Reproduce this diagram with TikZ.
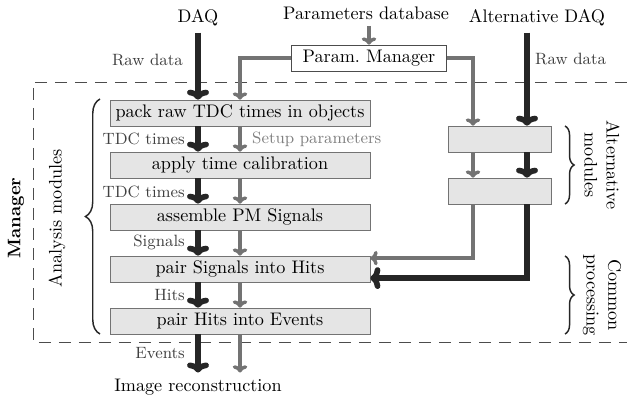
\documentclass[tikz,border=0pt]{standalone}
\usepackage{xcolor}
\usepackage{tikz}
\usetikzlibrary{positioning,arrows.meta,decorations.pathreplacing}

\tikzset{
  modbox/.style={draw=black!55, fill=black!10, minimum height=14.3pt, inner sep=0pt},
  darkflow/.style={draw=black!85, line width=3.1pt, -{To[length=5.5pt,width=12pt]}},
  grayflow/.style={draw=black!55, line width=1.9pt, -{To[length=4pt,width=8pt]}},
  flowlabel/.style={font=\small, text=black!75, inner sep=1pt},
  groupbrace/.style={decorate, draw=black!85, line width=0.8pt},
}

\begin{document}
\begin{tikzpicture}[x=0.55pt,y=0.55pt,yscale=-1,xscale=1]
            \useasboundingbox (0,0) rectangle (627,399);
            \coordinate (dcol) at (198,0);
            \coordinate (gcol) at (473,0);
            \coordinate (acol) at (527,0);

            \draw [black!70, dash pattern=on 6.5pt off 4.5pt] (627,82) -- (33,82) -- (33,342) -- (627,342);

            \node (daq) at (198,18) {DAQ};
            \node (db) at (366,13) {Parameters database};
            \node (altdaq) at (537,18) {Alternative DAQ};
            \node [draw=black!70, fill=white, minimum width=85pt, minimum height=14.3pt, inner sep=0pt] (pm) at (369,58) {Param.\ Manager};

            \node [modbox, minimum width=143pt] (pack) at (240,113) {pack raw TDC times in objects};
            \node [modbox, minimum width=143pt] (calib) at (240,165) {apply time calibration};
            \node [modbox, minimum width=143pt] (assemble) at (240,217) {assemble PM Signals};
            \node [modbox, minimum width=143pt] (hits) at (240,269) {pair Signals into Hits};
            \node [modbox, minimum width=143pt] (events) at (240,321) {pair Hits into Events};
            \node [modbox, minimum width=57pt] (altA) at (500,139) {};
            \node [modbox, minimum width=57pt] (altB) at (500,191) {};
            \node (img) at (198,387) {Image reconstruction};

            \draw [darkflow] (daq.south) -- (daq.south |- pack.north);
            \draw [grayflow] (db.south -| pm.north) -- (pm.north);
            \draw [grayflow] (pm.west) -| (pack.north);
            \draw [grayflow] (pm.east) -| (altA.north -| gcol);
            \draw [darkflow] (altdaq.south -| acol) -- (altA.north -| acol);
            \foreach \a/\b in {pack/calib,calib/assemble,assemble/hits,hits/events} {
                \draw [darkflow] (\a.south -| dcol) -- (\b.north -| dcol);
                \draw [grayflow] (\a.south) -- (\b.north);
            }
            \draw [darkflow] (altA.south -| acol) -- (altB.north -| acol);
            \draw [grayflow] (altA.south -| gcol) -- (altB.north -| gcol);
            \draw [grayflow] (altB.south -| gcol) |- ([yshift=-6pt]hits.east);
            \draw [darkflow] (altB.south -| acol) |- ([yshift=5pt]hits.east);
            \draw [darkflow] (events.south -| dcol) -- (img.north -| dcol);
            \draw [grayflow] (events.south) -- (events.south |- img.north);

            \node [flowlabel, anchor=east] (rawl) at (185,60) {Raw data};
            \node [flowlabel, anchor=west] (rawr) at (533,59) {Raw data};
            \node [flowlabel, anchor=east] (tdca) at (187,139) {TDC times};
            \node [flowlabel, anchor=west, text=black!50] (setup) at (250,139) {Setup parameters};
            \node [flowlabel, anchor=east] (tdcb) at (187,192) {TDC times};
            \node [flowlabel, anchor=east] (sigl) at (187,242) {Signals};
            \node [flowlabel, anchor=east] (hitl) at (187,295) {Hits};
            \node [flowlabel, anchor=east] (evl) at (187,353) {Events};

            \draw [groupbrace, decoration={brace, amplitude=8pt}] (100,334) -- (100,99);
            \node [rotate=90] (anl) at (57,218) {Analysis modules};
            \node [rotate=90, font=\bfseries] (mgr) at (16,218) {Manager};
            \draw [groupbrace, decoration={brace, amplitude=5pt}] (565,126) -- (565,204);
            \node [rotate=-90, align=center] (altl) at (602,165) {Alternative\\modules};
            \draw [groupbrace, decoration={brace, amplitude=5pt}] (565,256) -- (565,334);
            \node [rotate=-90, align=center] (coml) at (602,295) {Common\\processing};
        \end{tikzpicture}
\end{document}
